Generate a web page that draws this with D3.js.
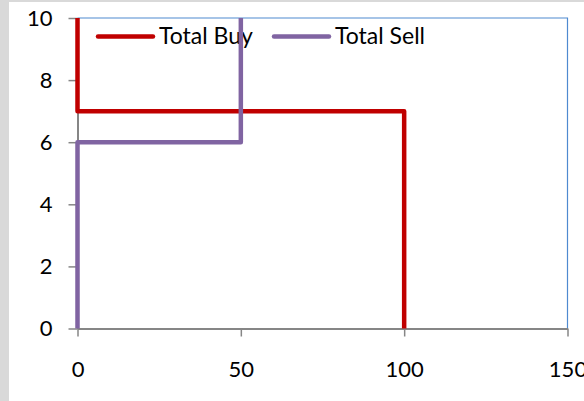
<!DOCTYPE html>
<html>
<head>
<meta charset="utf-8">
<script src="https://cdn.jsdelivr.net/npm/d3@7"></script>
<style>
  html, body { margin: 0; padding: 0; background: #d9d9d9; }
  svg { display: block; }
  text { font-family: Lato, "Open Sans", sans-serif; fill: #000; }
</style>
</head>
<body>
<svg id="chart" width="584" height="401"></svg>
<script>
// Series: step outlines of cumulative buy / sell quantities
const buyX  = [0, 0, 100, 100];
const buyY  = [10, 7, 7, 0];
const sellX = [0, 0, 50, 50];
const sellY = [0, 6, 6, 10];

const seriesNames = ["Total Buy", "Total Sell"];
const seriesColors = ["#c00000", "#8064a2"];

const xTicks = [0, 50, 100, 150];
const yTicks = [0, 2, 4, 6, 8, 10];

const svg = d3.select("#chart");
const W = 584, H = 401;

// chart area background (grey frame on left and top)
svg.append("rect").attr("x", 0).attr("y", 0).attr("width", W).attr("height", H).attr("fill", "#d9d9d9");
svg.append("rect").attr("x", 9).attr("y", 2).attr("width", W - 9).attr("height", H - 2).attr("fill", "#ffffff");

const x = d3.scaleLinear().domain([0, 150]).range([77.5, 567.5]);
const y = d3.scaleLinear().domain([0, 10]).range([328.5, 18]);

// plot area border (top and right)
svg.append("path")
  .attr("d", `M${x(0)},${y(10)} H${x(150)} V${y(0)}`)
  .attr("fill", "none")
  .attr("stroke", "#4f8ad0")
  .attr("stroke-width", 1.2);

const axisColor = "#868686";

const yAxis = svg.append("g")
  .attr("transform", `translate(${x(0)},0)`)
  .call(d3.axisLeft(y).tickValues(yTicks).tickSize(9).tickPadding(16).tickSizeOuter(0).tickFormat(d3.format("d")));
const xAxis = svg.append("g")
  .attr("transform", `translate(0,${y(0)})`)
  .call(d3.axisBottom(x).tickValues(xTicks).tickSize(8).tickPadding(25).tickSizeOuter(0).tickFormat(d3.format("d")));

[yAxis, xAxis].forEach(g => {
  g.select(".domain").attr("stroke", axisColor).attr("stroke-width", 2);
  g.selectAll(".tick line").attr("stroke", axisColor).attr("stroke-width", 1.5);
  g.selectAll(".tick text").attr("font-size", 22).attr("font-family", "Lato, 'Open Sans', sans-serif").attr("fill", "#000");
});

// legend
const legendItems = [
  { name: seriesNames[0], color: seriesColors[0], x0: 98 },
  { name: seriesNames[1], color: seriesColors[1], x0: 274 }
];
const legend = svg.append("g");
legendItems.forEach(it => {
  legend.append("line")
    .attr("x1", it.x0).attr("x2", it.x0 + 55)
    .attr("y1", 36.5).attr("y2", 36.5)
    .attr("stroke", it.color).attr("stroke-width", 4.5)
    .attr("stroke-linecap", "round");
  legend.append("text")
    .attr("x", it.x0 + 61).attr("y", 44)
    .attr("font-size", 23)
    .text(it.name);
});

// series lines
const line = d3.line().x(d => x(d[0])).y(d => y(d[1]));
const series = [
  d3.zip(buyX, buyY),
  d3.zip(sellX, sellY)
];
series.forEach((pts, i) => {
  svg.append("path")
    .datum(pts)
    .attr("d", line)
    .attr("fill", "none")
    .attr("stroke", seriesColors[i])
    .attr("stroke-width", 4.5)
    .attr("stroke-linejoin", "round");
});
</script>
</body>
</html>
